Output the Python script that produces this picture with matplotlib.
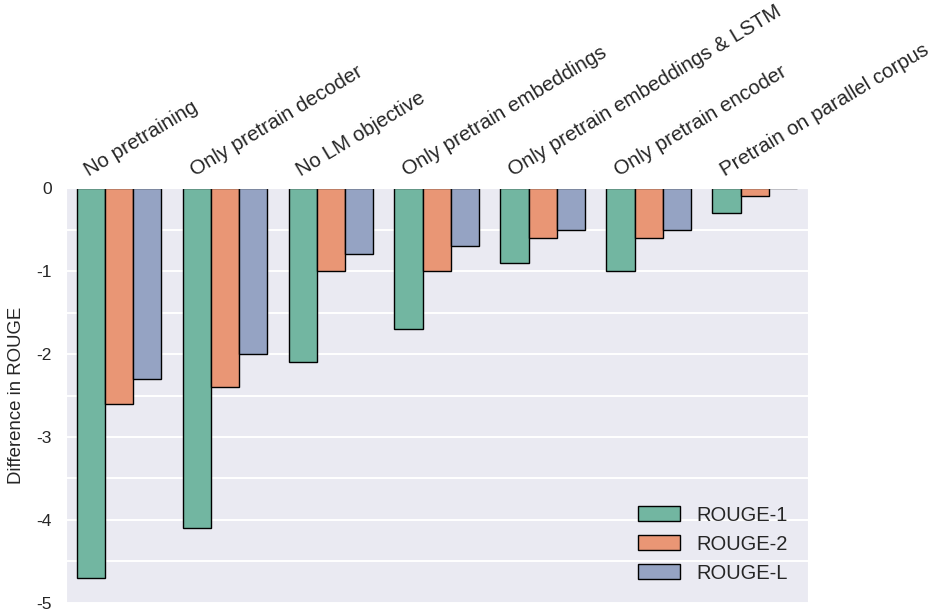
# === Bibliotecas ===
import numpy as np
import matplotlib
matplotlib.use("Agg")
import matplotlib.pyplot as plt
import matplotlib.transforms as mtransforms
import seaborn as sns

# === Dados ===
categorias = ["No pretraining", "Only pretrain decoder", "No LM objective",
              "Only pretrain embeddings", "Only pretrain embeddings & LSTM",
              "Only pretrain encoder", "Pretrain on parallel corpus"]
rouge_1 = [-4.7, -4.1, -2.1, -1.7, -0.9, -1.0, -0.3]
rouge_2 = [-2.6, -2.4, -1.0, -1.0, -0.6, -0.6, -0.1]
rouge_l = [-2.3, -2.0, -0.8, -0.7, -0.5, -0.5, 0.0]
series = ["ROUGE-1", "ROUGE-2", "ROUGE-L"]

# === Estilo ===
sns.set_style("darkgrid")
plt.rcParams['font.family'] = ['Liberation Sans', 'DejaVu Sans']
plt.rcParams['axes.unicode_minus'] = False
plt.rcParams['grid.linewidth'] = 1.4

cores = [sns.desaturate(c, 0.75) for c in sns.color_palette("Set2", 3)]

fig = plt.figure(figsize=(9.36, 6.09), dpi=100)
ax = fig.add_axes([0.0705, 0.0099, 0.7925, 0.6813])

x = np.arange(len(categorias))
largura = 0.8 / 3
for k, (vals, nome) in enumerate(zip([rouge_1, rouge_2, rouge_l], series)):
    ax.bar(x - 0.4 + largura * (k + 0.5), vals, largura, color=cores[k],
           edgecolor="black", linewidth=1.0, label=nome, zorder=2)

ax.set_xlim(-0.5, len(categorias) - 0.5)
ax.set_ylim(-5, 0)
ax.set_yticks([0, -1, -2, -3, -4, -5])
ax.set_yticks(np.arange(-4.5, 0, 1.0), minor=True)
ax.grid(True, which="both", axis="y", color="white", linewidth=1.4)
ax.grid(False, axis="x")
ax.tick_params(axis="y", which="both", length=0, labelsize=12.5, pad=10)
ax.set_ylabel("Difference in ROUGE", fontsize=13.4, labelpad=8)

# rótulos do eixo x em cima, inclinados
ax.xaxis.tick_top()
ax.set_xticks(x)
ax.set_xticklabels(categorias, rotation=31, ha="left", va="baseline",
                   rotation_mode="anchor", fontsize=14.8)
ax.tick_params(axis="x", length=0, pad=8)
desloc = mtransforms.ScaledTranslation(-30 / 100, 0, fig.dpi_scale_trans)
for lbl in ax.get_xticklabels():
    lbl.set_transform(lbl.get_transform() + desloc)

ax.legend(loc="lower right", fontsize=14.5, frameon=False,
          handlelength=2.1, handleheight=0.75, borderaxespad=0.6)

fig.savefig("out.png", dpi=100)
